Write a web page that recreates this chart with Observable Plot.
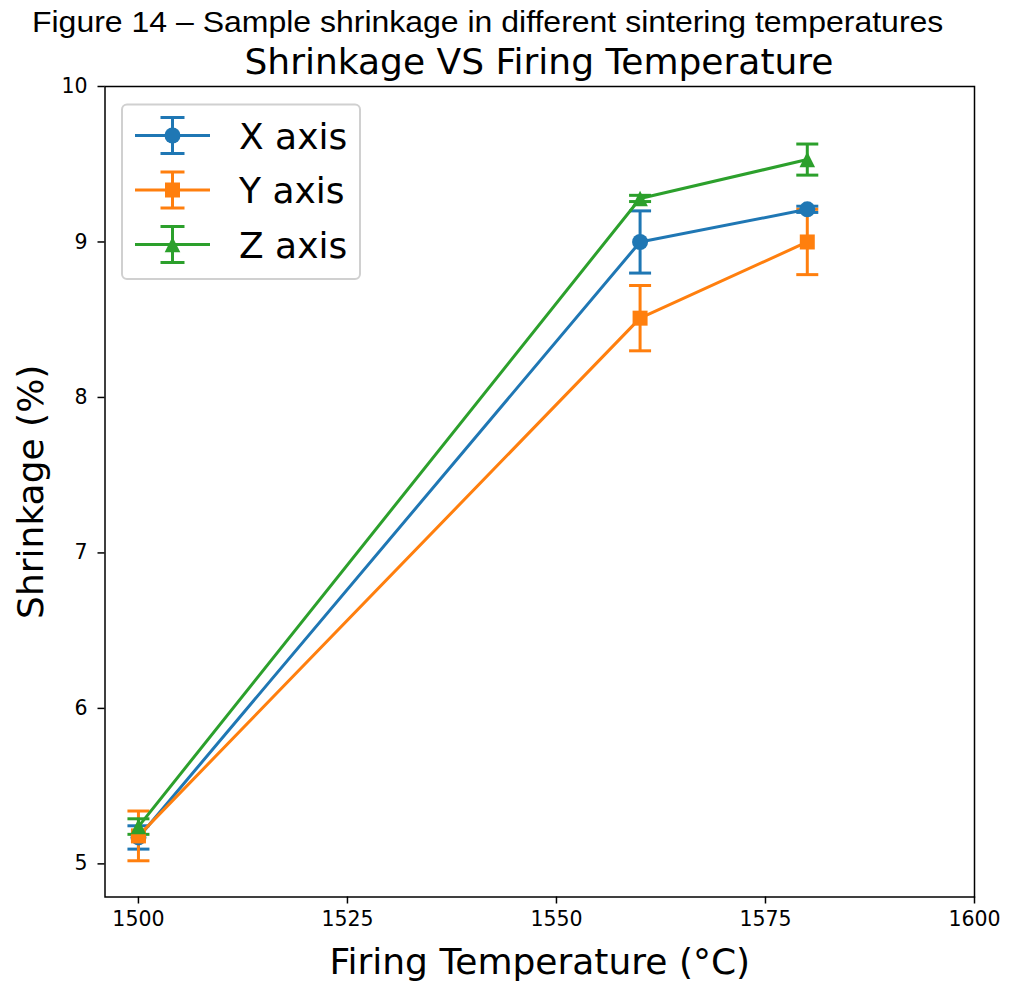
<!DOCTYPE html>
<html>
<head>
<meta charset="utf-8">
<script src="https://cdn.jsdelivr.net/npm/d3@7"></script>
<script src="https://cdn.jsdelivr.net/npm/@observablehq/plot@0.6"></script>
<style>
  html, body { margin: 0; padding: 0; background: #fff; }
  #wrap { width: 1009px; height: 982px; position: relative; overflow: hidden; background: #fff; }
  #chart { position: absolute; left: 0; top: 0; }
  #caption { position: absolute; left: 0; top: 0; z-index: 2; height: 40px; line-height: 40px; padding-top: 2px; box-sizing: border-box;
    font-family: "Liberation Sans", Arial, sans-serif; font-size: 30px; color: #000;
    padding-left: 30px; white-space: nowrap; transform: scaleX(1.066); transform-origin: 0 0; }
  #title { position: absolute; left: 104px; top: 40px; z-index: 2; height: 44px; line-height: 44px; width: 870px; text-align: center;
    font-family: "DejaVu Sans", sans-serif; font-size: 36px; color: #000; white-space: nowrap; }
  svg { display: block; }
</style>
</head>
<body>
<div id="wrap">
  <div id="chart"></div>
  <div id="caption">Figure 14 – Sample shrinkage in different sintering temperatures</div>
  <div id="title">Shrinkage VS Firing Temperature</div>
</div>
<script>
// ---- data ----
const temps = [1500, 1560, 1580];
const seriesNames = ["X axis", "Y axis", "Z axis"];
const seriesColors = ["#1f77b4", "#ff7f0e", "#2ca02c"];
const seriesMarkers = ["circle", "square", "triangle"];
const xMean = [5.17, 9.00, 9.21];
const xErr  = [0.075, 0.20, 0.02];
const yMean = [5.18, 8.51, 9.00];
const yErr  = [0.16, 0.21, 0.21];
const zMean = [5.24, 9.28, 9.53];
const zErr  = [0.05, 0.02, 0.10];
const xTicks = [1500, 1525, 1550, 1575, 1600];
const yTicks = [5, 6, 7, 8, 9, 10];
const xLabel = "Firing Temperature (°C)";
const yLabel = "Shrinkage (%)";

const means = [xMean, yMean, zMean];
const errs = [xErr, yErr, zErr];
const rows = [];
seriesNames.forEach((s, i) => {
  temps.forEach((t, j) => {
    rows.push({series: s, idx: i, temp: t, mean: means[i][j], err: errs[i][j],
               lo: means[i][j] - errs[i][j], hi: means[i][j] + errs[i][j]});
  });
});

// ---- custom symbols ----
const capSymbol = {draw(ctx) { ctx.moveTo(-11, 0); ctx.lineTo(11, 0); }};
const markerSymbols = {
  circle: {draw(ctx) { ctx.moveTo(8, 0); ctx.arc(0, 0, 8, 0, 2 * Math.PI); }},
  square: {draw(ctx) { ctx.rect(-7.5, -7.5, 15, 15); }},
  triangle: {draw(ctx) { ctx.moveTo(0, -7.8); ctx.lineTo(7.8, 7.8); ctx.lineTo(-7.8, 7.8); ctx.closePath(); }}
};

const W = 1009, H = 982;
const FONT = "DejaVu Sans";

const marks = [];
// error bars first (all series), then lines + markers
seriesNames.forEach((s, i) => {
  const d = rows.filter(r => r.idx === i);
  marks.push(Plot.ruleX(d, {x: "temp", y1: "lo", y2: "hi", stroke: seriesColors[i], strokeWidth: 3}));
  marks.push(Plot.dot(d, {x: "temp", y: "lo", symbol: capSymbol, stroke: seriesColors[i], strokeWidth: 3, fill: "none"}));
  marks.push(Plot.dot(d, {x: "temp", y: "hi", symbol: capSymbol, stroke: seriesColors[i], strokeWidth: 3, fill: "none"}));
});
seriesNames.forEach((s, i) => {
  const d = rows.filter(r => r.idx === i);
  marks.push(Plot.line(d, {x: "temp", y: "mean", stroke: seriesColors[i], strokeWidth: 3}));
  marks.push(Plot.dot(d, {x: "temp", y: "mean", symbol: markerSymbols[seriesMarkers[i]], fill: seriesColors[i], stroke: "none"}));
});

const chart = Plot.plot({
  width: W,
  height: H,
  marginTop: 86,
  marginBottom: 982 - 896.5,
  marginLeft: 104.5,
  marginRight: 35,
  style: {fontFamily: `'${FONT}', sans-serif`, fontSize: "20px", color: "#000", background: "transparent"},
  x: {domain: [1496, 1600]},
  y: {domain: [4.787, 10]},
  marks: [
    ...marks,
    Plot.frame({stroke: "#000", strokeWidth: 1.5}),
    Plot.axisX({ticks: xTicks, tickSize: 7, strokeWidth: 1.5, label: null, tickFormat: () => ""}),
    Plot.axisY({ticks: yTicks, tickSize: 7, strokeWidth: 1.5, label: null, tickFormat: () => ""}),
    Plot.text(xTicks, {x: d => d, text: d => String(d), frameAnchor: "bottom", textAnchor: "middle", lineAnchor: "top", dy: 14.5, fontSize: 20.5, fontFamily: FONT, fill: "#000"}),
    Plot.text(yTicks, {y: d => d, text: d => String(d), frameAnchor: "left", textAnchor: "end", lineAnchor: "middle", dx: -17.5, fontSize: 20.5, fontFamily: FONT, fill: "#000"}),
    Plot.text([xLabel], {text: d => d, frameAnchor: "bottom", textAnchor: "middle", lineAnchor: "bottom", dy: 77, fontSize: 36, fontFamily: FONT, fill: "#000"}),
    Plot.text([yLabel], {text: d => d, frameAnchor: "left", textAnchor: "middle", lineAnchor: "bottom", rotate: -90, dx: -62, fontSize: 36, fontFamily: FONT, fill: "#000"})
  ]
});
document.getElementById("chart").appendChild(chart);

// ---- legend ----
const svg = d3.select(chart);
const lg = svg.append("g");
lg.append("rect").attr("x", 122).attr("y", 104.5).attr("width", 238).attr("height", 174.5)
  .attr("rx", 5).attr("fill", "#fff").attr("fill-opacity", 0.8).attr("stroke", "#d0d0d0").attr("stroke-width", 2);
const rowY = [135.5, 190, 244.5];
seriesNames.forEach((s, i) => {
  const y = rowY[i], c = seriesColors[i], cx = 172.5;
  const g = lg.append("g");
  g.append("line").attr("x1", cx).attr("x2", cx).attr("y1", y - 18).attr("y2", y + 18).attr("stroke", c).attr("stroke-width", 3);
  g.append("line").attr("x1", cx - 12).attr("x2", cx + 12).attr("y1", y - 18).attr("y2", y - 18).attr("stroke", c).attr("stroke-width", 3);
  g.append("line").attr("x1", cx - 12).attr("x2", cx + 12).attr("y1", y + 18).attr("y2", y + 18).attr("stroke", c).attr("stroke-width", 3);
  g.append("line").attr("x1", 135).attr("x2", 210).attr("y1", y).attr("y2", y).attr("stroke", c).attr("stroke-width", 3);
  g.append("path").attr("transform", `translate(${cx},${y})`)
    .attr("d", d3.symbol().type(markerSymbols[seriesMarkers[i]]).size(1)())
    .attr("fill", c);
  g.append("text").attr("x", 239).attr("y", y + 13).attr("font-size", 36).attr("text-anchor", "start")
    .attr("font-family", `'${FONT}', sans-serif`).attr("fill", "#000").text(s);
});
</script>
</body>
</html>
